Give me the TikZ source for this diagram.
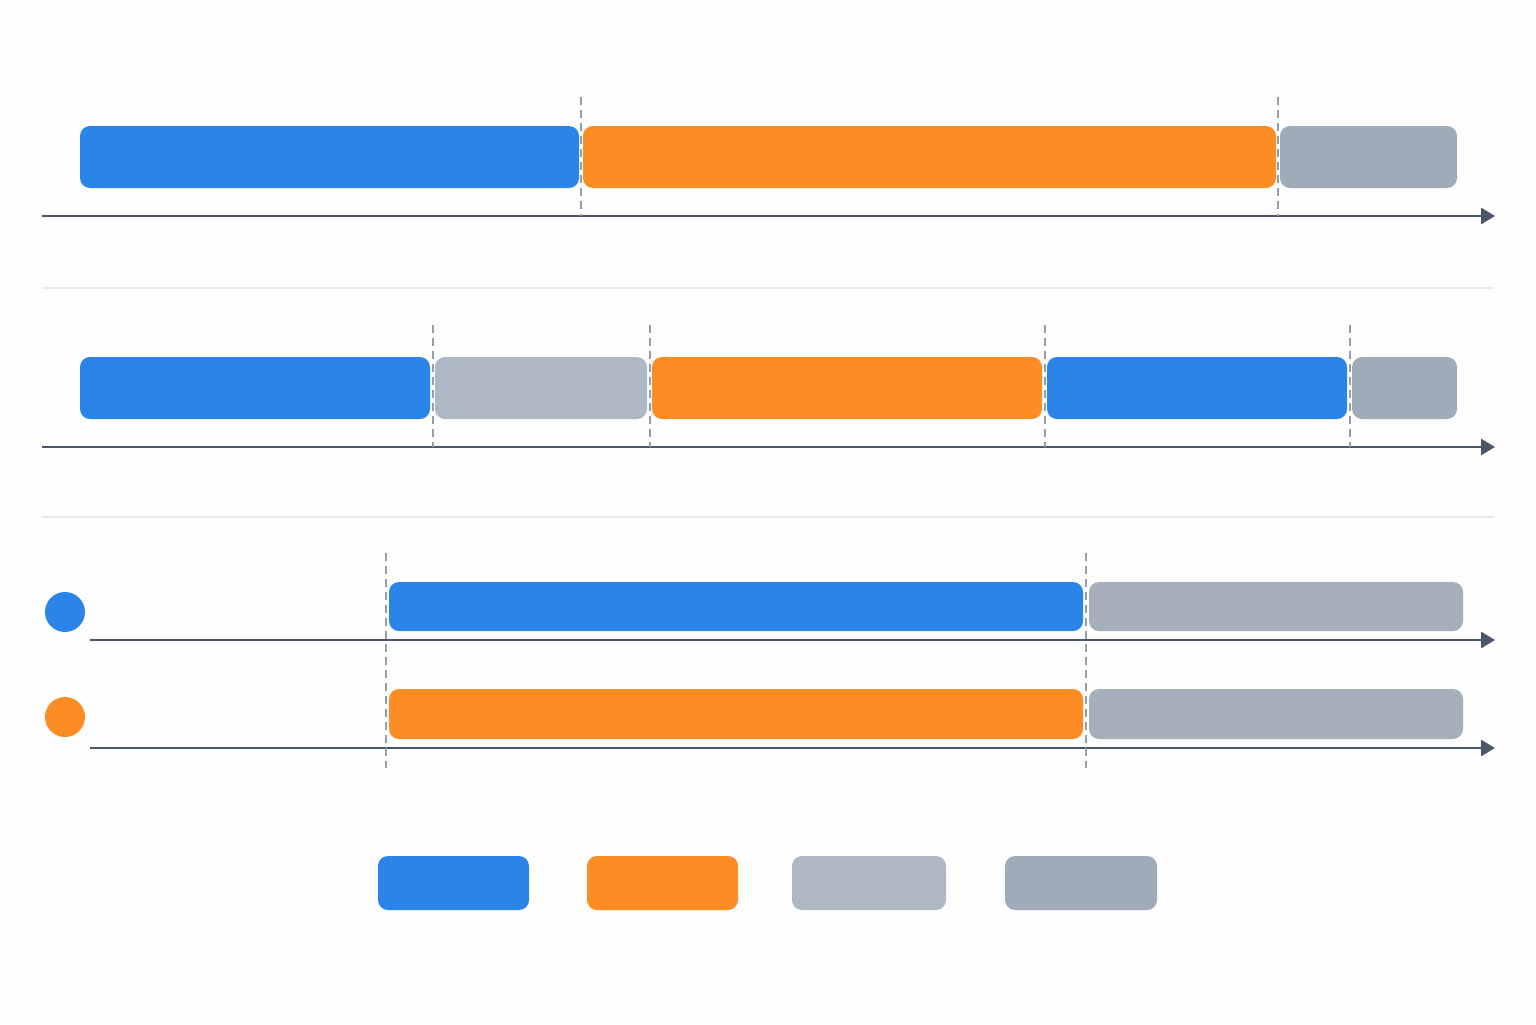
\documentclass[tikz,border=0pt]{standalone}
\usepackage{tikz}
\usetikzlibrary{arrows.meta, calc}

\definecolor{cblue}{HTML}{2B85E9}
\definecolor{corange}{HTML}{FC8D25}
\definecolor{cidle}{HTML}{AEB8C4}
\definecolor{cwait}{HTML}{A0ABB9}
\definecolor{cdone}{HTML}{A5AFBC}
\definecolor{caxis}{HTML}{4B5668}
\definecolor{cmark}{HTML}{949DAA}
\definecolor{csep}{HTML}{E6E8EC}
\definecolor{cbg}{HTML}{FDFDFD}

% one segment of a timeline: name, colour, x1, x2, y1, y2 (pixels)
\newcommand\seg[6]{%
  \node[bar, fill=#2, minimum width={(#4-#3)*0.5pt}, minimum height={(#6-#5)*0.5pt}]
    (#1) at ({(#3+#4)/2},{(#5+#6)/2}) {};}

\begin{document}
\begin{tikzpicture}[x=0.5pt, y=-0.5pt,
    bar/.style={rectangle, rounded corners=5pt, inner sep=0pt, outer sep=0pt},
    axis/.style={caxis, line width=1.4pt, -{Triangle[length=7pt, width=8pt]}},
    cutline/.style={cmark, line width=1.4pt, dash pattern=on 4pt off 2.5pt},
    sep/.style={csep, line width=1pt},
    dot/.style={circle, inner sep=0pt, minimum size=20pt}]

        \fill[cbg] (0,0) rectangle (1536,1024);
        \useasboundingbox (0,0) rectangle (1536,1024);

        % first timeline
        \seg{r1a}{cblue}{80}{579}{126}{188}
        \seg{r1b}{corange}{583}{1276}{126}{188}
        \seg{r1c}{cwait}{1280}{1457}{126}{188}
        \coordinate (a1s) at (42,216);
        \coordinate (a1e) at (1495,216);
        \draw[axis] (a1s) -- (a1e);
        \draw[cutline] (581,97) -- (581,216);
        \draw[cutline] (1278,97) -- (1278,216);

        \draw[sep] (42,288) -- (1494,288);

        % second timeline
        \seg{r2a}{cblue}{80}{430}{357}{419}
        \seg{r2b}{cidle}{435}{647}{357}{419}
        \seg{r2c}{corange}{652}{1042}{357}{419}
        \seg{r2d}{cblue}{1047}{1347}{357}{419}
        \seg{r2e}{cwait}{1352}{1457}{357}{419}
        \coordinate (a2s) at (42,447);
        \coordinate (a2e) at (1495,447);
        \draw[axis] (a2s) -- (a2e);
        \foreach \x in {433, 650, 1045, 1350}
          \draw[cutline] (\x,325) -- (\x,447);

        \draw[sep] (42,517) -- (1494,517);

        % two parallel timelines
        \node[dot, fill=cblue] (p1) at (65,612) {};
        \node[dot, fill=corange] (p2) at (65,717) {};
        \seg{r3a}{cblue}{389}{1083}{582}{631}
        \seg{r3b}{cdone}{1089}{1463}{582}{631}
        \seg{r4a}{corange}{389}{1083}{689}{739}
        \seg{r4b}{cdone}{1089}{1463}{689}{739}
        \coordinate (a3s) at (90,640);
        \coordinate (a3e) at (1495,640);
        \coordinate (a4s) at (90,748);
        \coordinate (a4e) at (1495,748);
        \draw[axis] (a3s) -- (a3e);
        \draw[axis] (a4s) -- (a4e);
        \draw[cutline] (386,553) -- (386,768);
        \draw[cutline] (1086,553) -- (1086,768);

        % legend
        \seg{k1}{cblue}{378}{529}{856}{910}
        \seg{k2}{corange}{587}{738}{856}{910}
        \seg{k3}{cidle}{792}{946}{856}{910}
        \seg{k4}{cwait}{1005}{1157}{856}{910}
\end{tikzpicture}
\end{document}
